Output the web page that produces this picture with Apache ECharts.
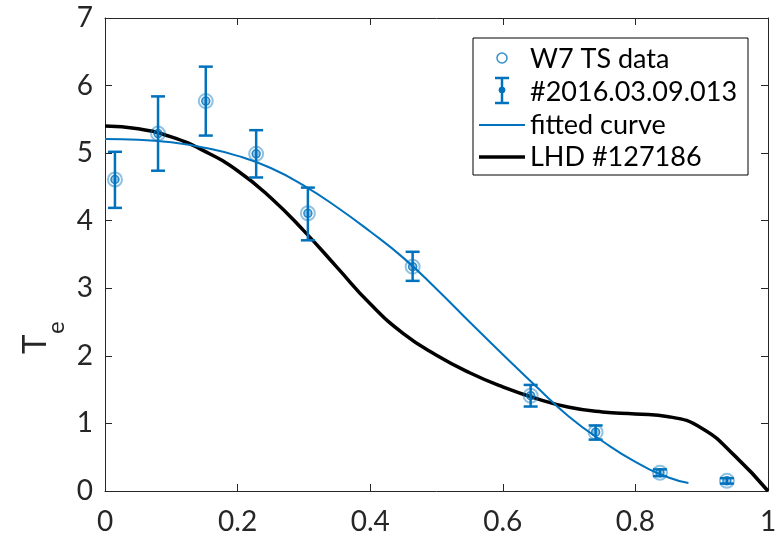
<!DOCTYPE html>
<html>
<head>
<meta charset="utf-8">
<script src="https://cdn.jsdelivr.net/npm/echarts@6/dist/echarts.min.js"></script>
<style>
html,body{margin:0;padding:0;background:#fff;}
#chart{width:781px;height:538px;}
</style>
</head>
<body>
<div id="chart"></div>
<script>
// ---- data ----
const xPos    = [0.015, 0.080, 0.152, 0.228, 0.306, 0.464, 0.642, 0.740, 0.837, 0.938];
const teW7    = [4.61, 5.29, 5.77, 4.99, 4.11, 3.32, 1.41, 0.87, 0.27, 0.15];
const errLow  = [4.19, 4.74, 5.26, 4.64, 3.71, 3.11, 1.25, 0.76, 0.22, 0.11];
const errHigh = [5.02, 5.84, 6.28, 5.34, 4.49, 3.54, 1.57, 0.97, 0.32, 0.19];

const fitX = [0, 0.05, 0.1, 0.15, 0.2, 0.25, 0.3, 0.35, 0.4, 0.45, 0.5, 0.55, 0.6, 0.65, 0.7, 0.75, 0.8, 0.85, 0.88];
const fitY = [5.21, 5.20, 5.16, 5.08, 4.96, 4.78, 4.52, 4.20, 3.84, 3.45, 2.99, 2.50, 2.02, 1.55, 1.10, 0.74, 0.43, 0.20, 0.12];

const lhdX = [0, 0.05, 0.1, 0.15, 0.2, 0.25, 0.3, 0.35, 0.4, 0.45, 0.5, 0.55, 0.6, 0.65, 0.7, 0.75, 0.8, 0.85, 0.9, 0.95, 1.0];
const lhdY = [5.40, 5.36, 5.24, 5.03, 4.74, 4.34, 3.85, 3.31, 2.77, 2.33, 2.01, 1.75, 1.54, 1.37, 1.24, 1.17, 1.14, 1.10, 0.93, 0.52, 0];

const xTicks = [0, 0.2, 0.4, 0.6, 0.8, 1];
const yTicks = [0, 1, 2, 3, 4, 5, 6, 7];

const legendNames = ['W7 TS data', '#2016.03.09.013', 'fitted curve', 'LHD #127186'];

// ---- chart ----
const BLUE = '#0072BD';
const FONT = 'Lato';
const AXC = '#262626';
const zip = (a, b) => a.map((v, i) => [v, b[i]]);

const chart = echarts.init(document.getElementById('chart'));

const axisCommon = {
  axisLine: {show: true, onZero: false, lineStyle: {color: AXC, width: 1}},
  axisTick: {show: true, inside: true, length: 7, lineStyle: {color: AXC, width: 1}},
  splitLine: {show: false}
};

const legendX = 473, legendY = 38;
const rowsY = [58, 91, 125, 157];

const option = {
  animation: false,
  backgroundColor: '#fff',
  grid: {left: 105, right: 13, top: 18, bottom: 47, containLabel: false},
  xAxis: [
    Object.assign({
      type: 'value', min: 0, max: 1, interval: 0.2, position: 'bottom',
      axisLabel: {color: AXC, fontFamily: FONT, fontSize: 28, margin: 17,
        formatter: v => (xTicks.indexOf(Math.round(v * 10) / 10) >= 0 ? String(Math.round(v * 10) / 10) : '')}
    }, axisCommon),
    Object.assign({
      type: 'value', min: 0, max: 1, interval: 0.2, position: 'top',
      axisLabel: {show: false}
    }, axisCommon)
  ],
  yAxis: [
    Object.assign({
      type: 'value', min: 0, max: 7, interval: 1, position: 'left',
      axisLabel: {color: AXC, fontFamily: FONT, fontSize: 28, margin: 12,
        formatter: v => (yTicks.indexOf(v) >= 0 ? String(v) : '')}
    }, axisCommon),
    Object.assign({
      type: 'value', min: 0, max: 7, interval: 1, position: 'right',
      axisLabel: {show: false}
    }, axisCommon)
  ],
  series: [
    {
      name: legendNames[3], type: 'line', data: zip(lhdX, lhdY), smooth: 0.5,
      showSymbol: false, lineStyle: {color: '#000', width: 3.5}, z: 3
    },
    {
      name: legendNames[2], type: 'line', data: zip(fitX, fitY), smooth: 0.5,
      showSymbol: false, lineStyle: {color: BLUE, width: 2}, z: 4
    },
    {
      name: legendNames[1], type: 'custom',
      data: xPos.map((x, i) => [x, errLow[i], errHigh[i]]),
      encode: {x: 0, y: [1, 2]},
      renderItem: function (params, api) {
        const x = api.value(0), lo = api.value(1), hi = api.value(2);
        const pH = api.coord([x, hi]), pL = api.coord([x, lo]);
        const hw = 7;
        const st = {stroke: BLUE, lineWidth: 2.5};
        return {type: 'group', children: [
          {type: 'line', shape: {x1: pH[0], y1: pH[1], x2: pL[0], y2: pL[1]}, style: st},
          {type: 'line', shape: {x1: pH[0] - hw, y1: pH[1], x2: pH[0] + hw, y2: pH[1]}, style: st},
          {type: 'line', shape: {x1: pL[0] - hw, y1: pL[1], x2: pL[0] + hw, y2: pL[1]}, style: st}
        ]};
      },
      z: 5
    },
    {
      name: legendNames[1] + ' marker', type: 'scatter', data: zip(xPos, teW7),
      symbol: 'circle', symbolSize: 8,
      itemStyle: {color: 'rgba(0,114,189,0.55)', borderColor: BLUE, borderWidth: 1.5},
      z: 6
    },
    {
      name: legendNames[0], type: 'scatter', data: zip(xPos, teW7),
      symbol: 'circle', symbolSize: 14,
      itemStyle: {color: 'rgba(0,0,0,0)', borderColor: 'rgba(0,114,189,0.55)', borderWidth: 2},
      z: 7
    }
  ],
  graphic: [
    {
      type: 'group', x: 35, y: 337, rotation: Math.PI / 2, z: 100,
      children: [
        {type: 'text', x: -17, y: 0, style: {text: 'T', fontFamily: FONT, fontSize: 33, fill: AXC, align: 'left', verticalAlign: 'middle'}},
        {type: 'text', x: 3, y: 21, style: {text: 'e', fontFamily: FONT, fontSize: 24, fill: AXC, align: 'left', verticalAlign: 'middle'}}
      ]
    },
    {
      type: 'group', z: 100,
      children: [
        {type: 'rect', shape: {x: legendX, y: legendY, width: 275, height: 137}, style: {fill: '#fff', stroke: '#000', lineWidth: 1}},
        {type: 'circle', shape: {cx: 502, cy: rowsY[0], r: 5}, style: {fill: 'none', stroke: 'rgba(0,114,189,0.8)', lineWidth: 1.5}},
        {type: 'line', shape: {x1: 502, y1: 78, x2: 502, y2: 103}, style: {stroke: BLUE, lineWidth: 2.5}},
        {type: 'line', shape: {x1: 495, y1: 78, x2: 509, y2: 78}, style: {stroke: BLUE, lineWidth: 2.5}},
        {type: 'line', shape: {x1: 495, y1: 103, x2: 509, y2: 103}, style: {stroke: BLUE, lineWidth: 2.5}},
        {type: 'circle', shape: {cx: 502, cy: 90, r: 3}, style: {fill: BLUE, stroke: BLUE, lineWidth: 1}},
        {type: 'line', shape: {x1: 479, y1: rowsY[2], x2: 525, y2: rowsY[2]}, style: {stroke: BLUE, lineWidth: 2}},
        {type: 'line', shape: {x1: 479, y1: rowsY[3], x2: 525, y2: rowsY[3]}, style: {stroke: '#000', lineWidth: 3.5}},
        {type: 'text', x: 530, y: 59, style: {text: legendNames[0], fontFamily: FONT, fontSize: 27, fill: '#000', verticalAlign: 'middle'}},
        {type: 'text', x: 530, y: 92, style: {text: legendNames[1], fontFamily: FONT, fontSize: 27, fill: '#000', verticalAlign: 'middle'}},
        {type: 'text', x: 530, y: 125, style: {text: legendNames[2], fontFamily: FONT, fontSize: 27, fill: '#000', verticalAlign: 'middle'}},
        {type: 'text', x: 530, y: 157, style: {text: legendNames[3], fontFamily: FONT, fontSize: 27, fill: '#000', verticalAlign: 'middle'}}
      ]
    }
  ]
};

chart.setOption(option);
</script>
</body>
</html>
